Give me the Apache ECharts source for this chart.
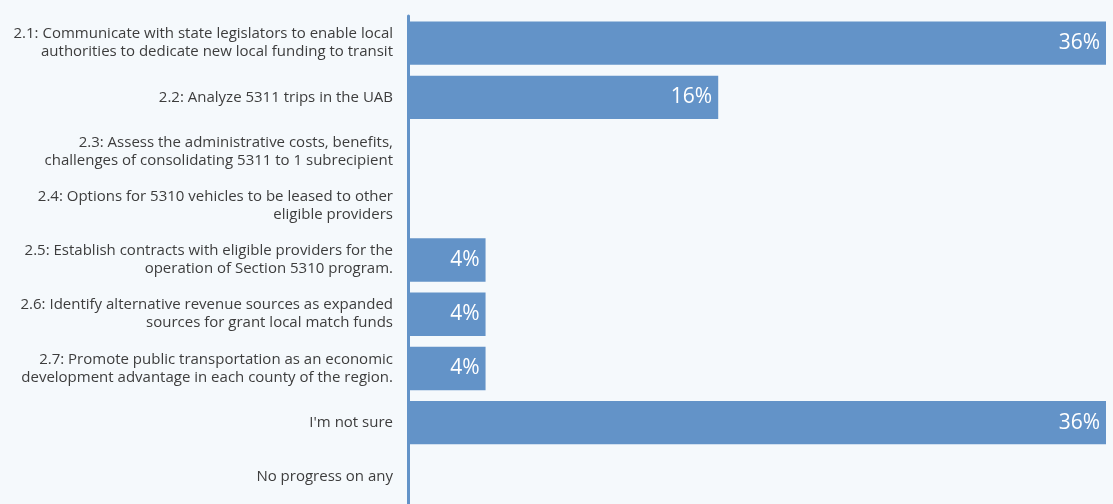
<!DOCTYPE html>
<html>
<head>
<meta charset="utf-8">
<script src="https://cdn.jsdelivr.net/npm/echarts@6/dist/echarts.min.js"></script>
<style>
  html, body { margin: 0; padding: 0; background: #f5f9fc; }
  #chart { width: 1113px; height: 504px; }
</style>
</head>
<body>
<div id="chart"></div>
<script>
// Progress on goal 2 action items (share of responses, %)
const categories = [
  '2.1: Communicate with state legislators to enable local\nauthorities to dedicate new local funding to transit',
  '2.2: Analyze 5311 trips in the UAB',
  '2.3: Assess the administrative costs, benefits,\nchallenges of consolidating 5311 to 1 subrecipient',
  '2.4: Options for 5310 vehicles to be leased to other\neligible providers',
  '2.5: Establish contracts with eligible providers for the\noperation of Section 5310 program.',
  '2.6: Identify alternative revenue sources as expanded\nsources for grant local match funds',
  '2.7: Promote public transportation as an economic\ndevelopment advantage in each county of the region.',
  "I'm not sure",
  'No progress on any'
];
const shares = [36, 16, 0, 0, 4, 4, 4, 36, 0];

const chart = echarts.init(document.getElementById('chart'));
chart.setOption({
  backgroundColor: '#f5f9fc',
  animation: false,
  grid: { left: 408, right: 7, top: 16, bottom: 0, containLabel: false },
  xAxis: {
    type: 'value', min: 0, max: 36,
    show: false
  },
  yAxis: {
    type: 'category',
    data: categories,
    inverse: true,
    axisLine: { show: true, lineStyle: { color: '#6393c8', width: 3 } },
    axisTick: { show: false },
    axisLabel: {
      margin: 15,
      color: '#3d3d3d',
      fontFamily: 'Open Sans',
      fontSize: 15,
      lineHeight: 18,
      align: 'right'
    }
  },
  series: [{
    type: 'bar',
    data: shares,
    barCategoryGap: '20%',
    itemStyle: { color: '#6393c8' },
    label: {
      show: true,
      position: 'insideRight',
      distance: 6,
      color: '#ffffff',
      fontFamily: 'Open Sans',
      fontSize: 21,
      formatter: p => p.value > 0 ? p.value + '%' : ''
    }
  }]
});
</script>
</body>
</html>
